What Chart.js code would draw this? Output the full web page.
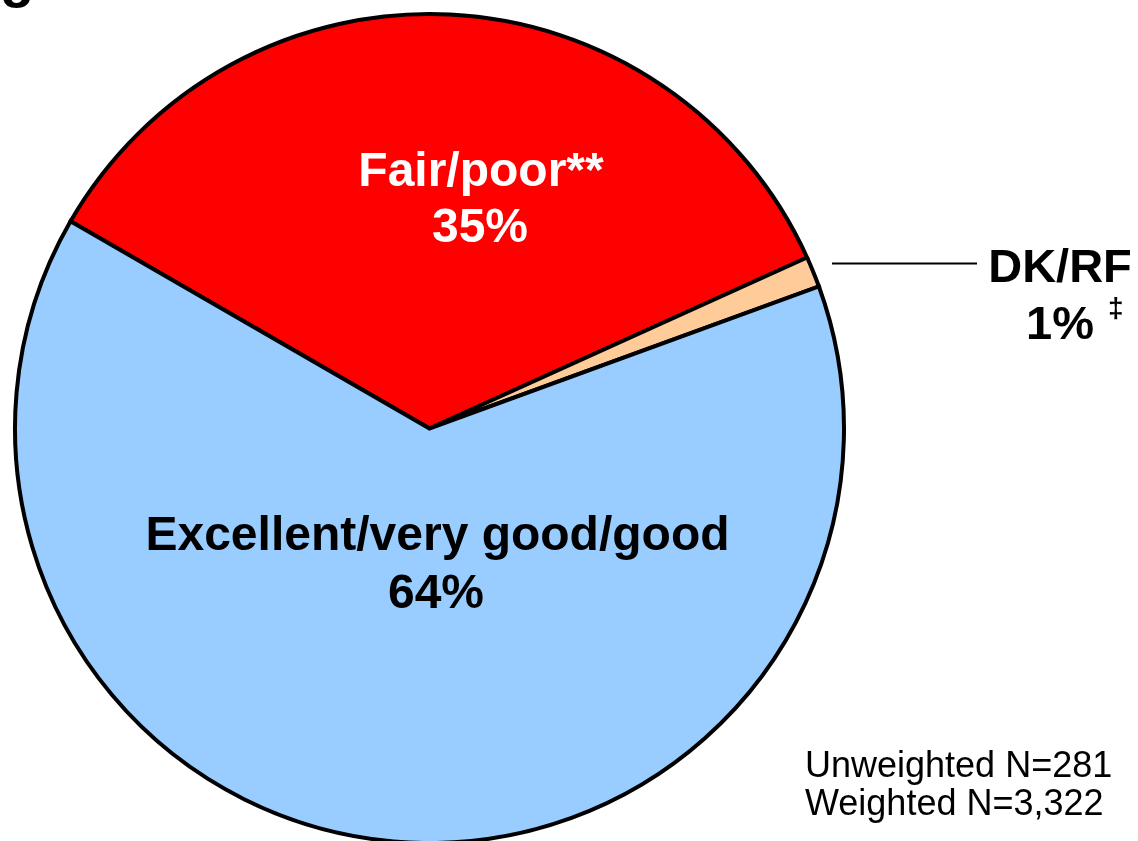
<!DOCTYPE html>
<html>
<head>
<meta charset="utf-8">
<script src="https://cdn.jsdelivr.net/npm/chart.js@4.4.1/dist/chart.umd.min.js"></script>
<style>
  html, body { margin: 0; padding: 0; background: #ffffff; }
  #wrap { width: 1138px; height: 841px; position: relative; overflow: hidden; }
</style>
</head>
<body>
<div id="wrap"><canvas id="c" width="1138" height="841"></canvas></div>
<script>
// ---- data ----
const categories = ["Fair/poor**", "DK/RF", "Excellent/very good/good"];
const shareValues = [34.9, 1.2, 63.9];
const percentLabels = ["35%", "1%", "64%"];
const sliceColors = ["#FF0000", "#FFCC99", "#99CCFF"];
const sampleNotes = ["Unweighted N=281", "Weighted N=3,322"];

const labelPlugin = {
  id: 'pieLabels',
  afterDraw(chart) {
    const ctx = chart.ctx;
    ctx.save();
    ctx.textAlign = 'center';
    ctx.textBaseline = 'alphabetic';

    // Fair/poor label (white)
    ctx.fillStyle = '#FFFFFF';
    ctx.font = 'bold 48px "Liberation Sans", Arial, sans-serif';
    ctx.fillText(categories[0], 481, 186);
    ctx.fillText(percentLabels[0], 480, 242);

    // Excellent label (black)
    ctx.fillStyle = '#000000';
    ctx.fillText(categories[2], 437.5, 550);
    ctx.fillText(percentLabels[2], 436, 608);

    // DK/RF callout
    ctx.font = 'bold 47px "Liberation Sans", Arial, sans-serif';
    ctx.fillText(categories[1], 1060, 282);
    ctx.fillText(percentLabels[1], 1060, 339);
    ctx.textAlign = 'left';
    ctx.font = 'bold 28px "Liberation Sans", Arial, sans-serif';
    ctx.fillText('\u2021', 1108, 317);

    ctx.strokeStyle = '#000000';
    ctx.lineWidth = 2;
    ctx.beginPath();
    ctx.moveTo(832, 263.5);
    ctx.lineTo(977, 263.5);
    ctx.stroke();

    // sample notes
    ctx.font = '36px "Liberation Sans", Arial, sans-serif';
    ctx.textAlign = 'left';
    ctx.fillText(sampleNotes[0], 805, 777);
    ctx.fillText(sampleNotes[1], 805, 815);

    // clipped title descender at top-left
    ctx.font = 'bold 56px "Liberation Sans", Arial, sans-serif';
    ctx.fillText('g', 0, -4);
    ctx.restore();
  }
};

new Chart(document.getElementById('c'), {
  type: 'pie',
  data: {
    labels: categories,
    datasets: [{
      data: shareValues,
      backgroundColor: sliceColors,
      borderColor: '#000000',
      borderWidth: 4,
      borderJoinStyle: 'miter'
    }]
  },
  options: {
    responsive: false,
    animation: false,
    events: [],
    rotation: -60,
    radius: 414.5,
    layout: { padding: { left: 0, right: 279, top: 16, bottom: 0 } },
    plugins: {
      legend: { display: false },
      tooltip: { enabled: false },
      title: { display: false }
    }
  },
  plugins: [labelPlugin]
});
</script>
</body>
</html>
